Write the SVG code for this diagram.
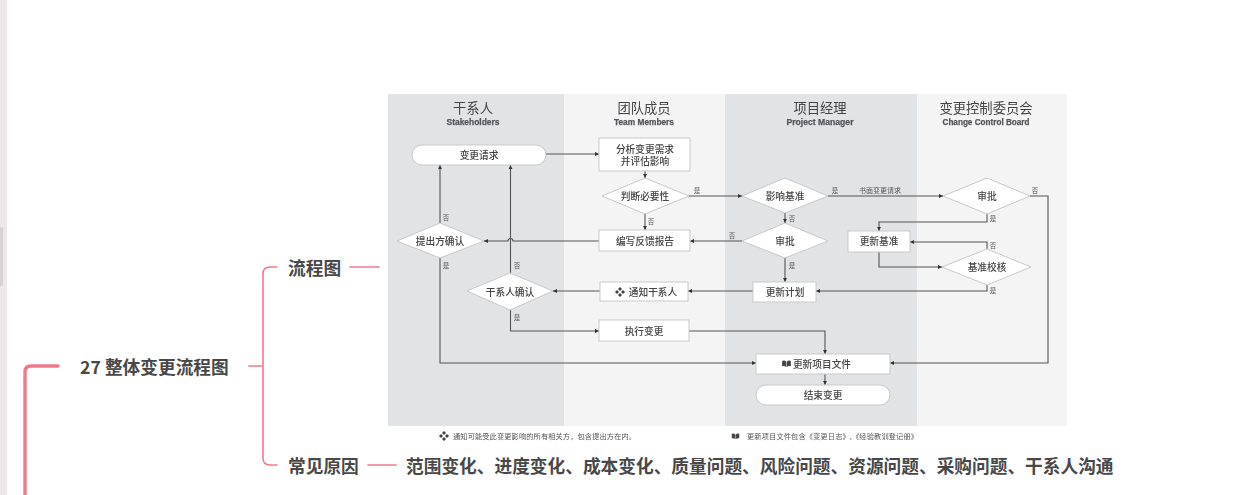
<svg xmlns="http://www.w3.org/2000/svg" xmlns:xlink="http://www.w3.org/1999/xlink" width="1245" height="495" viewBox="0 0 1245 495">
<style>
text{font-family:"Noto Sans CJK SC","Liberation Sans",sans-serif;text-anchor:middle}
.dark{fill:#e2e3e5}.light{fill:#f4f4f5}
.shape{fill:#fff;stroke:#c8c9ca;stroke-width:1}
.t{font-size:9.7px;fill:#444;font-weight:500;dominant-baseline:central}
.title{font-size:13.3px;fill:#444}
.en{font-size:8.5px;font-weight:700;fill:#55555c;stroke:#55555c;stroke-width:.25;font-family:"Liberation Sans",sans-serif}
.s{font-size:6.5px;fill:#555;dominant-baseline:central}
.fn{font-size:7.2px;fill:#555;text-anchor:start}
.m{font-size:17.7px;font-weight:700;fill:#484848;text-anchor:start}
.c{fill:none;stroke:#555;stroke-width:1.1}
.p{fill:none;stroke:#f0798c;stroke-width:1.6;stroke-linecap:round}
</style>
<defs>
<marker id="a" markerUnits="userSpaceOnUse" markerWidth="5" markerHeight="5" refX="4" refY="2.5" orient="auto"><path d="M0 .6L4 2.5L0 4.4Z" fill="#333"/></marker>
<filter id="soft" x="0" y="0" width="1" height="1"><feGaussianBlur stdDeviation="0.35"/></filter>
<symbol id="dia" viewBox="0 0 10 10" overflow="visible"><path d="M5 0L7 2L5 4L3 2ZM5 6L7 8L5 10L3 8ZM0 5L2 3L4 5L2 7ZM6 5L8 3L10 5L8 7Z" fill="#444"/></symbol>
<symbol id="book" viewBox="0 0 10 8" overflow="visible"><path d="M0 1Q3 0 4.7 2V8Q3 6.4 0 7ZM10 1Q7 0 5.3 2V8Q7 6.4 10 7Z" fill="#444"/></symbol>
</defs>
<rect width="1245" height="495" fill="#fff"/>
<rect width="7" height="495" fill="#efe6ea"/>
<rect x="0" y="227" width="3" height="59" rx="1.5" fill="#d5d2d4"/>

<g id="mindmap-lines">
<path d="M25 495V372Q25 366 31 366H58" fill="none" stroke="#f0798c" stroke-width="3.4" stroke-linecap="round"/>
<path class="p" d="M249 366H262"/>
<path class="p" d="M277 267H270Q263 267 263 274V458Q263 465 270 465H277"/>
<path class="p" d="M350 267H379"/>
<path class="p" d="M368 465H396"/>
</g>
<g id="topic-main"><text class="m" x="80" y="374">27 整体变更流程图</text></g>
<g id="topic-flow"><text class="m" x="288" y="275">流程图</text></g>
<g id="topic-causes"><text class="m" x="288" y="473">常见原因</text></g>
<g id="topic-causes-list"><text class="m" x="406" y="473">范围变化、进度变化、成本变化、质量问题、风险问题、资源问题、采购问题、干系人沟通</text></g>

<g id="flowchart" filter="url(#soft)">
<g id="lanes">
<rect class="dark" x="388" y="94" width="176" height="332"/>
<rect class="light" x="564" y="94" width="161" height="332"/>
<rect class="dark" x="725" y="94" width="192" height="332"/>
<rect class="light" x="917" y="94" width="150" height="332"/>
<text class="title" x="473" y="113">干系人</text><text class="en" x="473" y="125" textLength="53" lengthAdjust="spacingAndGlyphs">Stakeholders</text>
<text class="title" x="644" y="113">团队成员</text><text class="en" x="644" y="125" textLength="60" lengthAdjust="spacingAndGlyphs">Team Members</text>
<text class="title" x="820" y="113">项目经理</text><text class="en" x="820" y="125" textLength="67" lengthAdjust="spacingAndGlyphs">Project  Manager</text>
<text class="title" x="986" y="113">变更控制委员会</text><text class="en" x="986" y="125" textLength="87" lengthAdjust="spacingAndGlyphs">Change Control Board</text>
</g>
<g id="connectors">
<path class="c" marker-end="url(#a)" d="M546 154H599"/>
<path class="c" marker-end="url(#a)" d="M645 171V178"/>
<path class="c" marker-end="url(#a)" d="M645 214V230"/>
<path class="c" marker-end="url(#a)" d="M689 196H742"/>
<path class="c" marker-end="url(#a)" d="M828 196H943"/>
<path class="c" marker-end="url(#a)" d="M785 213V223"/>
<path class="c" marker-end="url(#a)" d="M742 241H690"/>
<path class="c" marker-end="url(#a)" d="M599 241H513A2.5 2.5 0 0 0 508 241H484"/>
<path class="c" marker-end="url(#a)" d="M440 223V165"/>
<path class="c" marker-end="url(#a)" d="M440 258V363H756"/>
<path class="c" marker-end="url(#a)" d="M510.500 273V165"/>
<path class="c" marker-end="url(#a)" d="M510.500 310V331H599"/>
<path class="c" marker-end="url(#a)" d="M689 331H825V354"/>
<path class="c" marker-end="url(#a)" d="M753 291H688"/>
<path class="c" marker-end="url(#a)" d="M600 291H553"/>
<path class="c" marker-end="url(#a)" d="M785 258V282"/>
<path class="c" marker-end="url(#a)" d="M987 214V222H879V231"/>
<path class="c" marker-end="url(#a)" d="M879 252V267H942"/>
<path class="c" marker-end="url(#a)" d="M987 249V242H910"/>
<path class="c" marker-end="url(#a)" d="M987 285V291H816"/>
<path class="c" marker-end="url(#a)" d="M1030 196H1048V363H890"/>
<path class="c" marker-end="url(#a)" d="M825 374V385"/>
</g>
<g id="connector-labels">
<text class="s" x="697" y="190">是</text>
<text class="s" x="651" y="221">否</text>
<text class="s" x="835" y="190">是</text>
<text class="s" x="880" y="190" style="font-size:7px">书面变更请求</text>
<text class="s" x="792" y="218">否</text>
<text class="s" x="732" y="235">否</text>
<text class="s" x="792" y="265">是</text>
<text class="s" x="446" y="217">否</text>
<text class="s" x="446" y="265">是</text>
<text class="s" x="517" y="265">否</text>
<text class="s" x="517" y="317">是</text>
<text class="s" x="993" y="218">是</text>
<text class="s" x="993" y="245">否</text>
<text class="s" x="993" y="290">是</text>
<text class="s" x="1035" y="190">否</text>
</g>
<g id="n-request"><rect class="shape" x="412" y="145" width="134" height="20" rx="10"/><text class="t" x="479" y="155">变更请求</text></g>
<g id="n-analyze"><rect class="shape" x="599" y="138" width="91" height="33"/><text class="t" x="645" y="149">分析变更需求</text><text class="t" x="645" y="161">并评估影响</text></g>
<g id="n-judge"><path class="shape" d="M645 178L689 196L645 214L602 196Z"/><text class="t" x="645" y="196">判断必要性</text></g>
<g id="n-feedback"><rect class="shape" x="599" y="230" width="91" height="21"/><text class="t" x="645" y="241">编写反馈报告</text></g>
<g id="n-confirm"><path class="shape" d="M440 223L484 241L440 258L397 241Z"/><text class="t" x="440" y="241">提出方确认</text></g>
<g id="n-impact"><path class="shape" d="M785 178L828 196L785 213L742 196Z"/><text class="t" x="785" y="196">影响基准</text></g>
<g id="n-approve-pm"><path class="shape" d="M785 223L828 241L785 258L742 241Z"/><text class="t" x="785" y="241">审批</text></g>
<g id="n-approve-ccb"><path class="shape" d="M987 178L1030 196L987 214L943 196Z"/><text class="t" x="987" y="196">审批</text></g>
<g id="n-baseline"><rect class="shape" x="848" y="231" width="62" height="21"/><text class="t" x="879" y="241">更新基准</text></g>
<g id="n-check"><path class="shape" d="M987 249L1031 267L987 285L942 267Z"/><text class="t" x="987" y="267">基准校核</text></g>
<g id="n-plan"><rect class="shape" x="753" y="282" width="63" height="20"/><text class="t" x="785" y="292">更新计划</text></g>
<g id="n-notify"><rect class="shape" x="600" y="282" width="88" height="19"/><use href="#dia" x="615" y="287" width="10" height="10"/><text class="t" x="653" y="292">通知干系人</text></g>
<g id="n-stake-confirm"><path class="shape" d="M510 273L553 291L510 310L467 291Z"/><text class="t" x="510" y="292">干系人确认</text></g>
<g id="n-execute"><rect class="shape" x="599" y="320" width="90" height="21"/><text class="t" x="644" y="331">执行变更</text></g>
<g id="n-update-docs"><rect class="shape" x="756" y="354" width="134" height="20"/><use href="#book" x="782" y="360" width="9" height="7"/><text class="t" x="822" y="364">更新项目文件</text></g>
<g id="n-end"><rect class="shape" x="756" y="385" width="134" height="20" rx="10"/><text class="t" x="823" y="395">结束变更</text></g>
<g id="footnotes">
<use href="#dia" x="439" y="431" width="10" height="10"/>
<text class="fn" x="453" y="439" textLength="183">通知可能受此变更影响的所有相关方，包含提出方在内。</text>
<use href="#book" x="731" y="433" width="9" height="6"/>
<text class="fn" x="747" y="439" textLength="171">更新项目文件包含《变更日志》,《经验教训登记册》</text>
</g>
</g>
</svg>
